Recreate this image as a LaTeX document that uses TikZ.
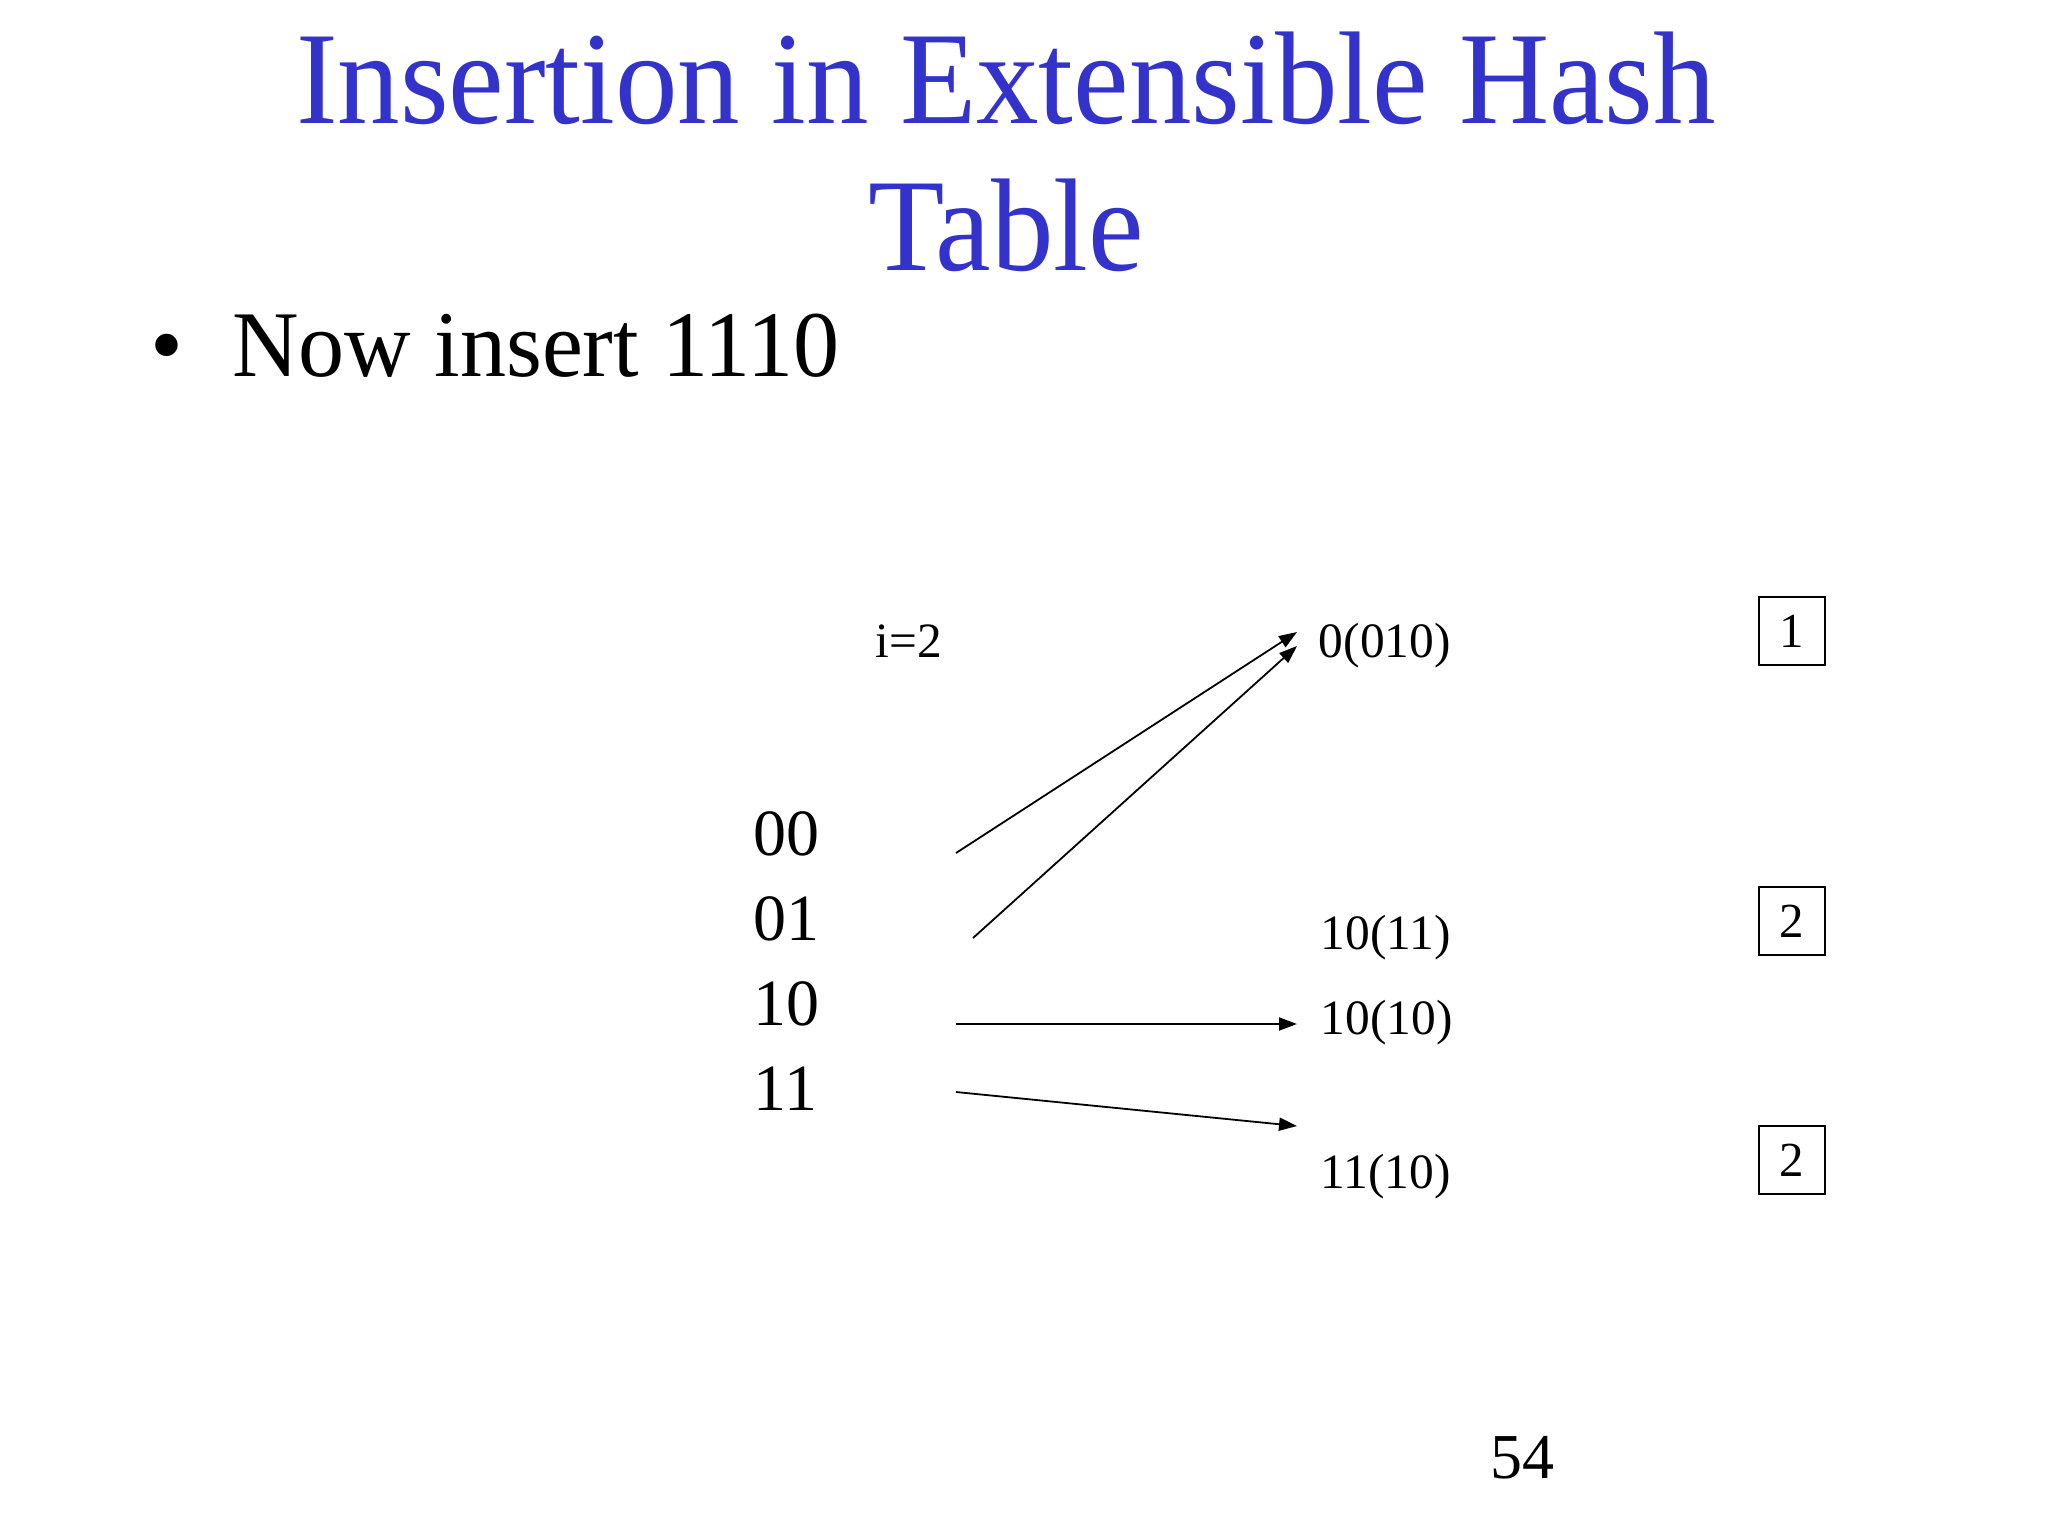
\documentclass[tikz,border=0pt]{standalone}
\usepackage{fontspec}
\setmainfont{Liberation Serif}
\newfontfamily\headfont{Liberation Serif}[FakeStretch=0.947]
\newfontfamily\bulletfont{Liberation Serif}[FakeStretch=0.98]
\usetikzlibrary{arrows.meta}
\definecolor{titleblue}{RGB}{51,51,204}

\begin{document}
\begin{tikzpicture}[x=0.5pt,y=0.5pt,yscale=-1,xscale=1,
  lbl/.style={anchor=base west,inner sep=0.75pt,font=\fontsize{24.7}{29}\selectfont},
  dirlbl/.style={anchor=base west,inner sep=0.75pt,font=\fontsize{33}{40}\selectfont},
  depthbox/.style={draw,line width=1pt,minimum width=33pt,minimum height=34pt,inner sep=0pt,font=\fontsize{24.5}{29}\selectfont},
  ptr/.style={-{Triangle[length=9pt,width=6.5pt]},line width=0.9pt}]

\useasboundingbox (0,0) rectangle (2048,1536);

% title and bullet
\draw (1006,124) node [anchor=base,inner sep=0pt,text=titleblue,font=\headfont\fontsize{66}{80}\selectfont] (title1) {Insertion in Extensible Hash};
\draw (1006,270) node [anchor=base,inner sep=0pt,text=titleblue,font=\headfont\fontsize{66}{80}\selectfont] (title2) {Table};
\draw (150,376) node [anchor=base west,inner sep=0pt,font=\fontsize{47}{56}\selectfont] (dot) {•};
\draw (232,376) node [anchor=base west,inner sep=0pt,font=\bulletfont\fontsize{47}{56}\selectfont] (step1) {Now insert 1110};

% directory
\draw (874,657) node [lbl] (gdepth) {i=2};
\draw (752,855) node [dirlbl] (d00) {00};
\draw (752,940) node [dirlbl] (d01) {01};
\draw (752,1025) node [dirlbl] (d10) {10};
\draw (752,1110) node [dirlbl] (d11) {11};

% buckets
\draw (1317,657) node [lbl] (b0) {0(010)};
\draw (1319,949) node [lbl] (b10a) {10(11)};
\draw (1319,1034) node [lbl] (b10b) {10(10)};
\draw (1319,1188) node [lbl] (b11) {11(10)};

\draw (1792,631) node [depthbox] (k0) {1};
\draw (1792,921) node [depthbox] (k10) {2};
\draw (1792,1160) node [depthbox] (k11) {2};

% pointers
\coordinate (s00) at (956,853);
\coordinate (e00) at (1297,632);
\coordinate (s01) at (973,938);
\coordinate (e01) at (1297,646);
\coordinate (s10) at (956,1024);
\coordinate (e10) at (1297,1024);
\coordinate (s11) at (956,1092);
\coordinate (e11) at (1297,1126);

\draw [ptr] (s00) -- (e00);
\draw [ptr] (s01) -- (e01);
\draw [ptr] (s10) -- (e10);
\draw [ptr] (s11) -- (e11);

\draw (1490,1478) node [anchor=base west,inner sep=0pt,font=\fontsize{32}{38}\selectfont] (pageno) {54};

\end{tikzpicture}
\end{document}
